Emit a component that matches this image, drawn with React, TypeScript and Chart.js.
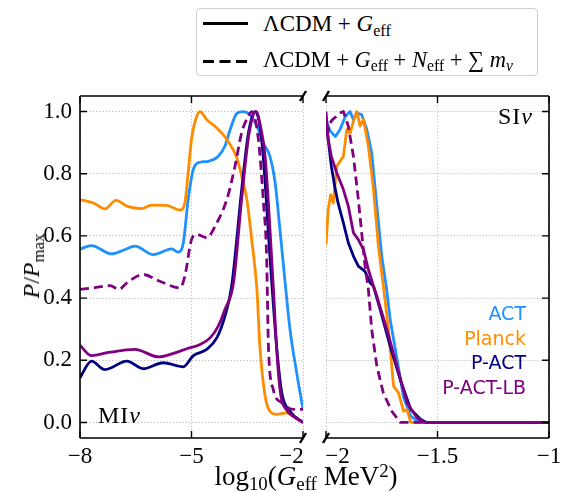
import React, { useEffect, useRef } from "react";
import { Chart, registerables } from "chart.js";

Chart.register(...registerables);

// ---------- data ----------
const X_TICKS_MI = [-8, -5, -2];
const X_TICKS_SI = [-2, -1.5, -1];
const Y_TICKS = [0, 0.2, 0.4, 0.6, 0.8, 1.0];

const SERIES_NAMES = ["ACT", "Planck", "P-ACT", "P-ACT-LB"];
const SERIES_COLORS = ["#1E90FF", "#FF8C00", "#000080", "#800080"];

// MI nu (left panel)
const ACT_MI_X = [-8, -7.69, -7.15, -6.83, -6.52, -6.03, -5.53, -5.36, -5.22, -5.09, -4.95, -4.77, -4.55, -4.28, -4.1, -3.96, -3.78, -3.61, -3.43, -3.24, -3.07, -2.89, -2.75, -2.62, -2.48, -2.35, -2.17, -2.0];
const ACT_MI_Y = [0.558, 0.569, 0.542, 0.554, 0.567, 0.54, 0.558, 0.548, 0.578, 0.717, 0.814, 0.837, 0.84, 0.856, 0.889, 0.942, 0.994, 1.0, 0.99, 0.953, 0.899, 0.856, 0.771, 0.62, 0.449, 0.299, 0.16, 0.042];

const PLANCK_MI_X = [-8, -7.64, -7.33, -7.03, -6.74, -6.34, -6.07, -5.67, -5.31, -5.18, -5.09, -5.0, -4.86, -4.77, -4.59, -4.32, -4.05, -3.78, -3.65, -3.51, -3.38, -3.24, -3.16, -3.02, -2.89, -2.71, -2.44, -2.26, -2.0];
const PLANCK_MI_Y = [0.717, 0.706, 0.687, 0.714, 0.696, 0.688, 0.699, 0.698, 0.683, 0.705, 0.803, 0.91, 0.985, 1.0, 0.974, 0.947, 0.91, 0.851, 0.792, 0.717, 0.588, 0.428, 0.245, 0.085, 0.036, 0.026, 0.031, 0.02, 0.0];

const PACT_MI_X = [-8, -7.69, -7.33, -6.74, -6.3, -5.76, -5.22, -4.95, -4.59, -4.32, -4.1, -3.92, -3.65, -3.47, -3.29, -3.16, -3.07, -2.89, -2.71, -2.57, -2.35, -2.0];
const PACT_MI_Y = [0.144, 0.197, 0.17, 0.197, 0.173, 0.192, 0.179, 0.215, 0.235, 0.272, 0.342, 0.438, 0.749, 0.93, 1.0, 0.953, 0.856, 0.535, 0.245, 0.095, 0.036, 0.0];

const PACTLB_MI_X = [-8, -7.69, -7.19, -6.52, -5.89, -5.44, -5.13, -4.77, -4.5, -4.28, -4.1, -3.87, -3.65, -3.45, -3.26, -3.14, -3.02, -2.8, -2.7, -2.6, -2.44, -2.2, -2.0];
const PACTLB_MI_Y = [0.248, 0.215, 0.226, 0.235, 0.211, 0.224, 0.237, 0.251, 0.272, 0.31, 0.363, 0.449, 0.72, 0.93, 1.0, 0.95, 0.856, 0.438, 0.22, 0.09, 0.04, 0.015, 0.0];

const DASHED_MI_X = [-8, -7.64, -7.19, -6.95, -6.74, -6.3, -5.85, -5.31, -5.18, -5.0, -4.86, -4.59, -4.32, -4.05, -3.83, -3.65, -3.47, -3.38, -3.2, -3.07, -2.98, -2.93, -2.8, -2.57, -2.26, -2.0];
const DASHED_MI_Y = [0.428, 0.433, 0.44, 0.428, 0.449, 0.476, 0.454, 0.433, 0.47, 0.588, 0.605, 0.594, 0.642, 0.717, 0.824, 0.932, 0.985, 1.0, 0.91, 0.717, 0.535, 0.245, 0.106, 0.063, 0.042, 0.042];

// SI nu (right panel)
const ACT_SI_X = [-2, -1.981, -1.958, -1.937, -1.913, -1.892, -1.877, -1.862, -1.84, -1.817, -1.795, -1.772, -1.75, -1.728, -1.712, -1.683, -1.652, -1.62, -1.59, -1.55, -1.0];
const ACT_SI_Y = [0.974, 0.937, 0.92, 0.942, 0.985, 1.0, 0.974, 0.995, 0.99, 0.942, 0.867, 0.696, 0.535, 0.428, 0.33, 0.21, 0.08, 0.02, 0.005, 0.0, 0.0];

const PLANCK_SI_X = [-2, -1.99, -1.979, -1.967, -1.952, -1.937, -1.922, -1.907, -1.892, -1.877, -1.862, -1.847, -1.832, -1.81, -1.787, -1.765, -1.743, -1.72, -1.697, -1.675, -1.652, -1.637, -1.62, -1.6, -1.0];
const PLANCK_SI_Y = [0.572, 0.685, 0.733, 0.706, 0.824, 0.84, 0.856, 0.942, 0.93, 0.969, 1.0, 0.953, 0.975, 0.889, 0.749, 0.567, 0.44, 0.3, 0.117, 0.095, 0.036, 0.042, 0.0, 0.0, 0.0];

const PACT_SI_X = [-2, -1.99, -1.976, -1.961, -1.946, -1.922, -1.9, -1.877, -1.855, -1.825, -1.803, -1.787, -1.757, -1.712, -1.667, -1.62, -1.576, -1.55, -1.0];
const PACT_SI_Y = [0.97, 0.91, 0.824, 0.76, 0.706, 0.642, 0.578, 0.535, 0.503, 0.486, 0.45, 0.438, 0.363, 0.245, 0.138, 0.042, 0.01, 0.0, 0.0];

const PACTLB_SI_X = [-2, -1.99, -1.976, -1.952, -1.922, -1.9, -1.877, -1.855, -1.832, -1.81, -1.787, -1.772, -1.727, -1.682, -1.637, -1.592, -1.56, -1.0];
const PACTLB_SI_Y = [1.0, 0.91, 0.856, 0.803, 0.749, 0.696, 0.61, 0.588, 0.556, 0.492, 0.438, 0.406, 0.299, 0.181, 0.063, 0.015, 0.0, 0.0];

const DASHED_SI_X = [-1.995, -1.985, -1.97, -1.952, -1.937, -1.922, -1.9, -1.877, -1.855, -1.84, -1.825, -1.81, -1.795, -1.772, -1.743, -1.705, -1.667, -1.0];
const DASHED_SI_Y = [0.92, 0.96, 0.975, 0.985, 0.995, 1.0, 0.953, 0.856, 0.717, 0.61, 0.503, 0.428, 0.299, 0.181, 0.095, 0.036, 0.0, 0.0];

// ---------- helpers ----------
const pts = (xs: number[], ys: number[]) => xs.map((x, i) => ({ x, y: ys[i] }));
const minus = (v: number) => (v < 0 ? "\u2212" + String(Math.abs(v)) : String(v));

const TICK_FONT = { family: "'Liberation Serif', serif", size: 23 };
const GRID_COLOR = "#bdbdbd";

function framePlugin(side: "left" | "right") {
  return {
    id: "frame_" + side,
    afterDraw(chart: any) {
      const { ctx, chartArea: a, scales } = chart;
      const xs = scales.x;
      const ys = scales.y;
      ctx.save();
      ctx.strokeStyle = "#000";
      ctx.lineWidth = 1.6;
      ctx.setLineDash([]);
      const sx = side === "left" ? a.left : a.right;
      ctx.beginPath();
      ctx.moveTo(a.left, a.top);
      ctx.lineTo(a.right, a.top);
      ctx.moveTo(a.left, a.bottom);
      ctx.lineTo(a.right, a.bottom);
      ctx.moveTo(sx, a.top);
      ctx.lineTo(sx, a.bottom);
      ctx.stroke();
      const TL = 7;
      ctx.lineWidth = 1.4;
      ctx.beginPath();
      xs.ticks.forEach((t: any) => {
        const px = xs.getPixelForValue(t.value);
        ctx.moveTo(px, a.bottom);
        ctx.lineTo(px, a.bottom - TL);
        ctx.moveTo(px, a.top);
        ctx.lineTo(px, a.top + TL);
      });
      const dir = side === "left" ? 1 : -1;
      ys.ticks.forEach((t: any) => {
        const py = ys.getPixelForValue(t.value);
        ctx.moveTo(sx, py);
        ctx.lineTo(sx + dir * TL, py);
      });
      ctx.stroke();
      // axis break marks
      const bx = side === "left" ? a.right : a.left;
      ctx.lineWidth = 2.4;
      ctx.beginPath();
      [a.top, a.bottom].forEach((by: number) => {
        ctx.moveTo(bx - 3, by + 5);
        ctx.lineTo(bx + 3, by - 5);
      });
      ctx.stroke();
      ctx.restore();
    },
  };
}

function makeDatasets(
  act: any[],
  planck: any[],
  pact: any[],
  pactlb: any[],
  dashed: any[],
  smooth: boolean
) {
  const common = {
    pointRadius: 0,
    borderWidth: 2.8,
    fill: false,
    borderJoinStyle: "round" as const,
    cubicInterpolationMode: smooth ? ("monotone" as const) : ("default" as const),
    tension: 0,
  };
  return [
    { ...common, label: SERIES_NAMES[0], data: act, borderColor: SERIES_COLORS[0], order: 5 },
    { ...common, label: SERIES_NAMES[1], data: planck, borderColor: SERIES_COLORS[1], order: 4 },
    { ...common, label: SERIES_NAMES[2], data: pact, borderColor: SERIES_COLORS[2], order: 3 },
    { ...common, label: SERIES_NAMES[3], data: pactlb, borderColor: SERIES_COLORS[3], order: 2 },
    { ...common, label: SERIES_NAMES[3] + " (ext)", data: dashed, borderColor: SERIES_COLORS[3], borderDash: [9, 5], order: 1 },
  ];
}

function makeConfig(side: "left" | "right") {
  const isLeft = side === "left";
  const xTicks = isLeft ? X_TICKS_MI : X_TICKS_SI;
  const datasets = isLeft
    ? makeDatasets(pts(ACT_MI_X, ACT_MI_Y), pts(PLANCK_MI_X, PLANCK_MI_Y), pts(PACT_MI_X, PACT_MI_Y), pts(PACTLB_MI_X, PACTLB_MI_Y), pts(DASHED_MI_X, DASHED_MI_Y), true)
    : makeDatasets(pts(ACT_SI_X, ACT_SI_Y), pts(PLANCK_SI_X, PLANCK_SI_Y), pts(PACT_SI_X, PACT_SI_Y), pts(PACTLB_SI_X, PACTLB_SI_Y), pts(DASHED_SI_X, DASHED_SI_Y), false);
  return {
    type: "line" as const,
    data: { datasets },
    options: {
      animation: false as const,
      responsive: false,
      devicePixelRatio: 1,
      events: [],
      layout: { padding: { left: 0, right: isLeft ? 37 : 41, top: 96, bottom: 0 } },
      plugins: { legend: { display: false }, tooltip: { enabled: false } },
      scales: {
        x: {
          type: "linear" as const,
          min: isLeft ? -8 : -2,
          max: isLeft ? -2 : -1,
          afterBuildTicks: (s: any) => {
            s.ticks = xTicks.map((v) => ({ value: v }));
          },
          afterFit: (s: any) => {
            s.height = 54;
          },
          ticks: {
            autoSkip: false,
            maxRotation: 0,
            padding: 5,
            color: "#000",
            font: TICK_FONT,
            callback: (v: any) => {
              const n = Number(v);
              if (n === -2) return isLeft ? minus(n) + "    " : "    " + minus(n);
              return minus(n);
            },
          },
          grid: { color: GRID_COLOR, lineWidth: 1, drawTicks: false },
          border: { display: false, dash: [1.2, 2] },
        },
        y: {
          type: "linear" as const,
          min: -0.05,
          max: 1.05,
          afterBuildTicks: (s: any) => {
            s.ticks = Y_TICKS.map((v) => ({ value: v }));
          },
          afterFit: (s: any) => {
            s.width = isLeft ? 80 : 36;
          },
          ticks: {
            display: isLeft,
            padding: 8,
            color: "#000",
            font: TICK_FONT,
            callback: (v: any) => Number(v).toFixed(1),
          },
          grid: { color: GRID_COLOR, lineWidth: 1, drawTicks: false },
          border: { display: false, dash: [1.2, 2] },
        },
      },
    },
    plugins: [framePlugin(side)],
  };
}

const serif = "'Liberation Serif', 'DejaVu Serif', serif";
const sans = "'DejaVu Sans', sans-serif";
const subStyle: React.CSSProperties = { fontSize: "0.7em", verticalAlign: "-0.28em", lineHeight: 0 };
const supStyle: React.CSSProperties = { fontSize: "0.7em", verticalAlign: "0.45em", lineHeight: 0 };

export default function App() {
  const leftRef = useRef<HTMLCanvasElement>(null);
  const rightRef = useRef<HTMLCanvasElement>(null);

  useEffect(() => {
    const c1 = new Chart(leftRef.current as HTMLCanvasElement, makeConfig("left") as any);
    const c2 = new Chart(rightRef.current as HTMLCanvasElement, makeConfig("right") as any);
    return () => {
      c1.destroy();
      c2.destroy();
    };
  }, []);

  const labelTops = [304, 329, 353, 378];

  return (
    <div style={{ position: "absolute", left: 0, top: 0, width: 561, height: 492, overflow: "hidden", background: "#fff" }}>
      <canvas ref={leftRef} width={340} height={492} style={{ position: "absolute", left: 0, top: 0, width: 340, height: 492 }} />
      <canvas ref={rightRef} width={300} height={492} style={{ position: "absolute", left: 290, top: 0, width: 300, height: 492 }} />

      {/* top legend */}
      <div style={{ position: "absolute", left: 196, top: 8, width: 342, height: 68, boxSizing: "border-box", border: "1.3px solid #cfcfcf", borderRadius: 4, background: "#fff" }} />
      <svg width={561} height={90} style={{ position: "absolute", left: 0, top: 0 }}>
        <line x1={203} y1={23.5} x2={248} y2={23.5} stroke="#000" strokeWidth={3} />
        <line x1={203} y1={61.5} x2={248} y2={61.5} stroke="#000" strokeWidth={3} strokeDasharray="11,5.5" />
      </svg>
      <div style={{ position: "absolute", left: 263, top: 12, font: `23px/23px ${serif}`, whiteSpace: "nowrap", color: "#000" }}>
        ΛCDM + <i>G</i><span style={subStyle}>eff</span>
      </div>
      <div style={{ position: "absolute", left: 263, top: 48, font: `22.5px/23px ${serif}`, whiteSpace: "nowrap", color: "#000" }}>
        ΛCDM + <i>G</i><span style={subStyle}>eff</span> + <i>N</i><span style={subStyle}>eff</span> + ∑ <i>m</i><span style={subStyle}><i>ν</i></span>
      </div>

      {/* y axis title */}
      <div style={{ position: "absolute", left: 31, top: 266, transform: "translate(-50%, -50%) rotate(-90deg)", font: `24px/24px ${serif}`, whiteSpace: "nowrap", color: "#000" }}>
        <i>P</i>/<i>P</i><span style={subStyle}>max</span>
      </div>

      {/* x axis title */}
      <div style={{ position: "absolute", left: 306, top: 463, transform: "translateX(-50%)", font: `27px/27px ${serif}`, whiteSpace: "nowrap", color: "#000" }}>
        log<span style={subStyle}>10</span>(<i>G</i><span style={subStyle}>eff</span> MeV<span style={supStyle}>2</span>)
      </div>

      {/* panel annotations */}
      <div style={{ position: "absolute", right: 561 - 533, top: 104, font: `24px/24px ${serif}`, whiteSpace: "nowrap", color: "#000", letterSpacing: "1px" }}>
        SI<i>ν</i>
      </div>
      <div style={{ position: "absolute", left: 98, top: 403, font: `24px/24px ${serif}`, whiteSpace: "nowrap", color: "#000", letterSpacing: "1px" }}>
        MI<i>ν</i>
      </div>

      {/* series labels */}
      {SERIES_NAMES.map((n, i) => (
        <div key={n} style={{ position: "absolute", right: 561 - 526, top: labelTops[i], font: `19px/19px ${sans}`, color: SERIES_COLORS[i], whiteSpace: "nowrap" }}>
          {n}
        </div>
      ))}
    </div>
  );
}
